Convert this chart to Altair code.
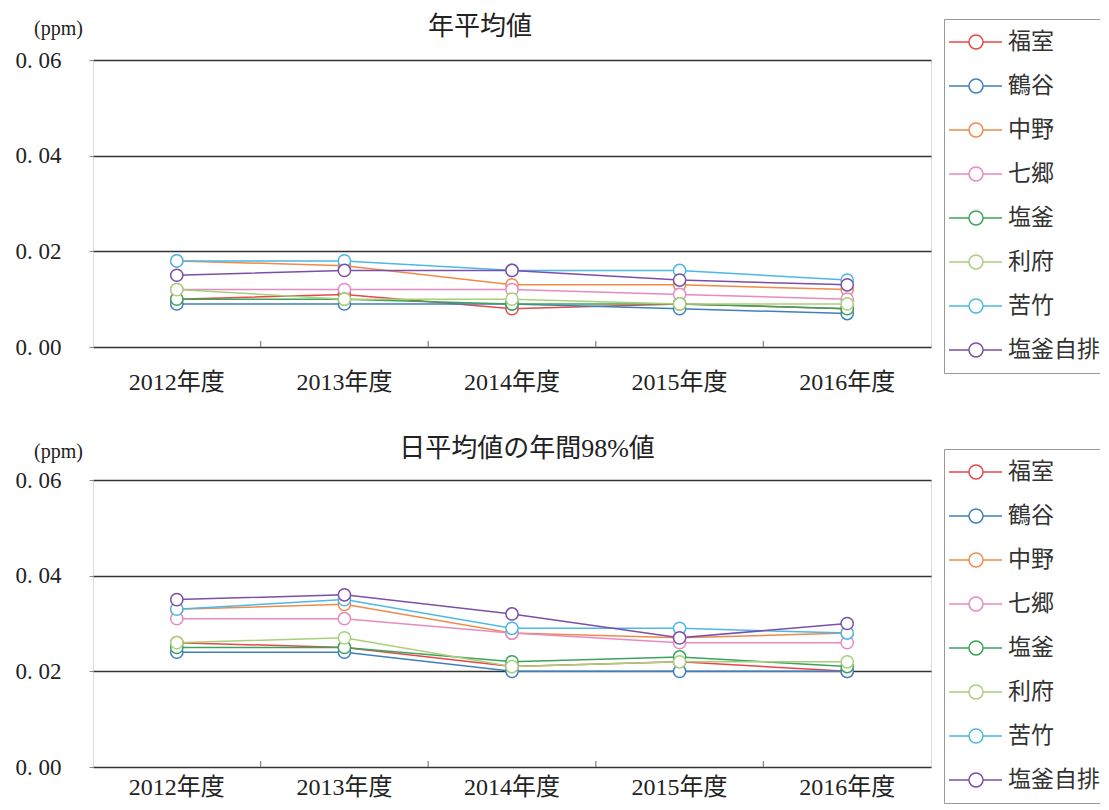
import altair as alt
import pandas as pd

years = ["2012年度", "2013年度", "2014年度", "2015年度", "2016年度"]
stations = ["福室", "鶴谷", "中野", "七郷", "塩釜", "利府", "苦竹", "塩釜自排"]
colors = ["#e8474a", "#3f7fbf", "#f08a4b", "#e88abf", "#3ca35c", "#a8d07a", "#4db8e8", "#7b4fa8"]

annual_fukumuro = [0.010, 0.011, 0.008, 0.009, 0.008]
annual_tsurugaya = [0.009, 0.009, 0.009, 0.008, 0.007]
annual_nakano = [0.018, 0.017, 0.013, 0.013, 0.012]
annual_shichigo = [0.012, 0.012, 0.012, 0.011, 0.010]
annual_shiogama = [0.010, 0.010, 0.009, 0.009, 0.008]
annual_rifu = [0.012, 0.010, 0.010, 0.009, 0.009]
annual_nigatake = [0.018, 0.018, 0.016, 0.016, 0.014]
annual_shiogama_auto = [0.015, 0.016, 0.016, 0.014, 0.013]

d98_fukumuro = [0.026, 0.025, 0.021, 0.022, 0.020]
d98_tsurugaya = [0.024, 0.024, 0.020, 0.020, 0.020]
d98_nakano = [0.033, 0.034, 0.028, 0.027, 0.028]
d98_shichigo = [0.031, 0.031, 0.028, 0.026, 0.026]
d98_shiogama = [0.025, 0.025, 0.022, 0.023, 0.021]
d98_rifu = [0.026, 0.027, 0.021, 0.022, 0.022]
d98_nigatake = [0.033, 0.035, 0.029, 0.029, 0.028]
d98_shiogama_auto = [0.035, 0.036, 0.032, 0.027, 0.030]

annual = [annual_fukumuro, annual_tsurugaya, annual_nakano, annual_shichigo,
          annual_shiogama, annual_rifu, annual_nigatake, annual_shiogama_auto]
d98 = [d98_fukumuro, d98_tsurugaya, d98_nakano, d98_shichigo,
       d98_shiogama, d98_rifu, d98_nigatake, d98_shiogama_auto]

y_ticks = [0.0, 0.02, 0.04, 0.06]
boundaries = years[1:]

FONT = "'Liberation Serif', 'Noto Sans CJK JP', serif"
CJK = "'Noto Sans CJK JP', sans-serif"
W, H = 838, 287

# legend symbol: line - open circle - line (custom path, unit = sqrt(size)/2 px)
SYM = ("M-1.636,0L0.182,0M1.455,0L3.182,0"
       "M0.182,0A0.636,0.636 0 1,1 1.455,0A0.636,0.636 0 1,1 0.182,0Z")


def panel(series, title, title_dx, title_offset, legend_y, ppm_y, xlab_pad):
    rows = []
    for si, st in enumerate(stations):
        for yi, yr in enumerate(years):
            rows.append({"station": st, "year": yr, "value": series[si][yi], "order": si})
    df = pd.DataFrame(rows)
    xscale = alt.Scale(type="band", domain=years, paddingInner=0, paddingOuter=0)
    yscale = alt.Scale(domain=[0, 0.06], nice=False, zero=True)
    color = alt.Color(
        "station:N",
        sort=stations,
        scale=alt.Scale(domain=stations, range=colors),
        legend=alt.Legend(
            orient="none", legendX=851, legendY=legend_y, title=None,
            symbolType=SYM, symbolSize=484, symbolStrokeWidth=1.5,
            symbolFillColor="white",
            labelFont=CJK, labelFontSize=23, labelColor="#333",
            labelOffset=29, rowPadding=20, padding=11,
            strokeColor="#999", fillColor="white",
        ),
    )
    x_enc = alt.X(
        "year:N", sort=years, scale=xscale, bandPosition=0.5,
        axis=alt.Axis(title=None, domain=False, ticks=False, labelAngle=0,
                      labelAlign="center", bandPosition=0.5,
                      labelFont=FONT, labelFontSize=24, labelColor="#222",
                      labelPadding=xlab_pad, grid=False),
    )
    y_enc = alt.Y(
        "value:Q", scale=yscale,
        axis=alt.Axis(values=y_ticks, domain=False, tickSize=4, tickColor="#888",
                      labelExpr="replace(format(datum.value, '.2f'), '.', '. ')",
                      labelFont=FONT, labelFontSize=23, labelColor="#222",
                      labelPadding=28, grid=True, gridColor="#333", gridWidth=1.3,
                      title="(ppm)", titleAngle=0, titleX=-35, titleY=ppm_y,
                      titleAlign="center", titleBaseline="alphabetic",
                      titleFont=FONT, titleFontSize=20, titleFontWeight="normal",
                      titleColor="#222"),
    )
    lines = alt.Chart(df).mark_line(strokeWidth=1.5).encode(
        x=x_enc, y=y_enc, color=color, order="order:Q"
    )
    points = alt.Chart(df).mark_point(
        shape="circle", filled=False, fill="white", fillOpacity=1, opacity=1,
        size=150, strokeWidth=1.5
    ).encode(x=x_enc, y=y_enc, color=color, order="order:Q")
    tick_df = pd.DataFrame({"year": boundaries})
    ticks = alt.Chart(tick_df).mark_rule(color="#888", strokeWidth=1.3).encode(
        x=alt.X("year:N", sort=years, scale=xscale, bandPosition=0),
        y=alt.value(H),
        y2=alt.value(H - 6),
    )
    return alt.layer(ticks, lines, points).properties(
        width=W, height=H,
        title=alt.TitleParams(text=title, font=FONT, fontSize=26, fontWeight="normal",
                              color="#222", anchor="middle", frame="group",
                              offset=title_offset, baseline="alphabetic", dx=title_dx),
    )


top = panel(annual, "年平均値", -32, -43, -41, -26, 35)
bottom = panel(d98, "日平均値の年間98%値", 15, -42, -31, -23, 20)

chart = alt.vconcat(top, bottom, spacing=40).resolve_scale(
    color="independent"
).resolve_legend(color="independent").properties(
    padding={"left": 6, "top": 5, "right": -12, "bottom": 0}
).configure_view(stroke="#888", strokeWidth=1.5).configure(background="white")

chart.save("out.html", embed_options={"renderer": "svg", "actions": False})
